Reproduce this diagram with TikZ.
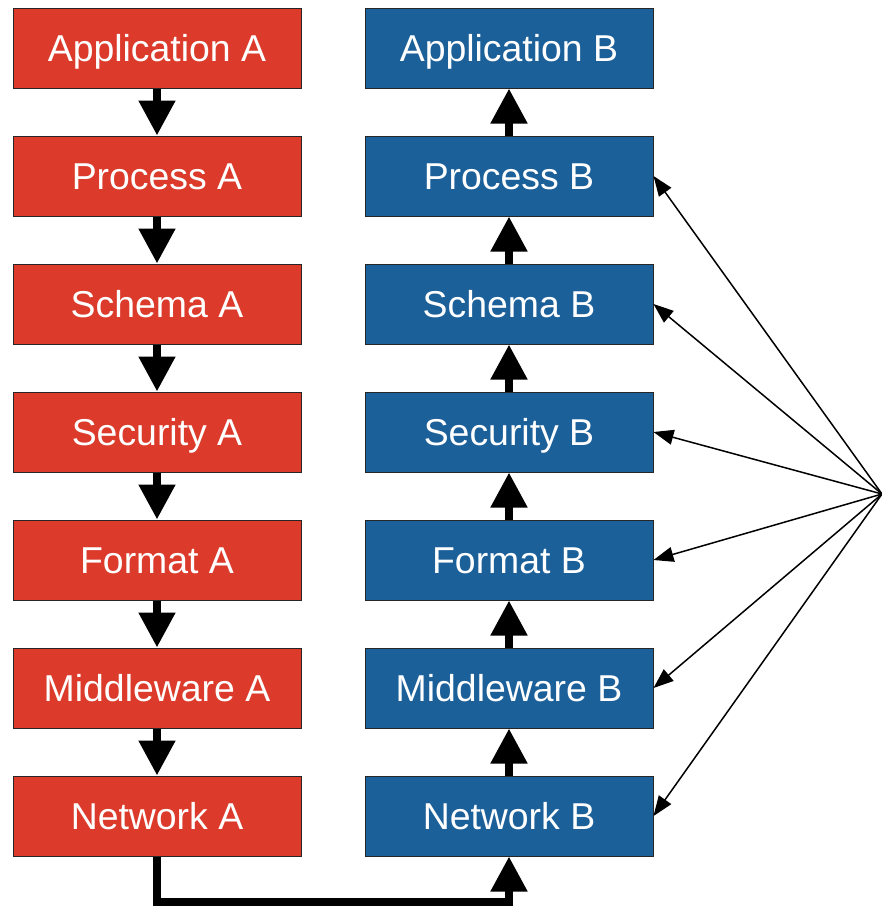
\documentclass[tikz,border=0pt]{standalone}
\usepackage{fontspec}
\setmainfont{Liberation Sans}
\usetikzlibrary{arrows.meta}

\definecolor{layerred}{RGB}{220,59,44}
\definecolor{layerblue}{RGB}{28,96,154}

\tikzset{
  layer/.style={draw=black!85, line width=1pt, minimum width=288pt, minimum height=80pt,
    inner sep=0pt, text=white, text height=26.8pt, text depth=0pt,
    font=\fontsize{37.4}{40}\selectfont},
  sendbox/.style={layer, fill=layerred},
  recvbox/.style={layer, fill=layerblue},
  flow/.style={line width=8pt, -{Triangle[length=35pt, width=35pt]}},
  probe/.style={line width=1.5pt, -{Triangle[length=20pt, width=15pt]}}
}

\begin{document}
\begin{tikzpicture}[x=1pt, y=-1pt]
\useasboundingbox (0,0) rectangle (882,906);

% sending stack
\foreach \name [count=\i from 0] in {Application,Process,Schema,Security,Format,Middleware,Network}
  \node[sendbox] (a\i) at (157,48+128*\i) {\name\ A};

% receiving stack
\foreach \name [count=\i from 0] in {Application,Process,Schema,Security,Format,Middleware,Network}
  \node[recvbox] (b\i) at (509,48+128*\i) {\name\ B};

% down through A, up through B
\foreach \i [evaluate=\i as \j using int(\i+1)] in {0,...,5} {
  \draw[flow] (a\i.south) -- (a\j.north);
  \draw[flow] (b\j.north) -- (b\i.south);
}

\coordinate (wire) at (157,902);
\draw[flow, line join=miter] (a6.south) -- (wire) -| (b6.south);

% observer on the right
\coordinate (obs) at (882,494);
\foreach \i in {1,...,6}
  \draw[probe] (obs) -- (b\i.east);
\end{tikzpicture}
\end{document}
